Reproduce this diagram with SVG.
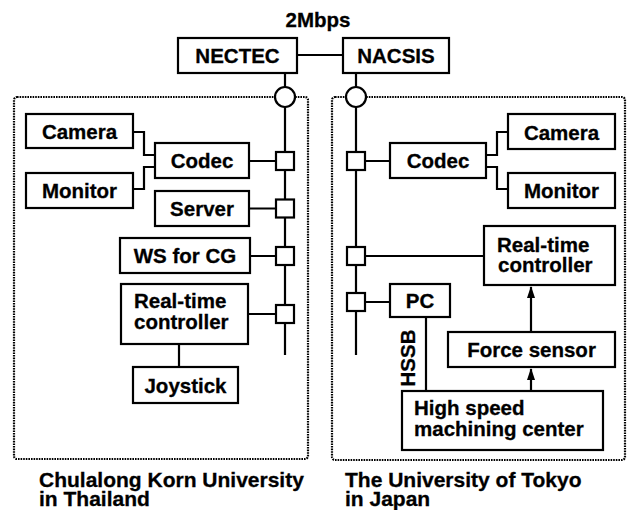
<svg xmlns="http://www.w3.org/2000/svg" width="628" height="510" viewBox="0 0 628 510">
<defs>
<style>
text{font-family:"Liberation Sans",Arial,sans-serif;font-weight:bold;font-size:20.5px;fill:#000;stroke:#000;stroke-width:0.3}
.c{text-anchor:middle}
.box{fill:#fff;stroke:#000;stroke-width:2.2}
.ln{fill:none;stroke:#000;stroke-width:2.2}
.dot{fill:none;stroke:#000;stroke-width:2.2;stroke-dasharray:1.6 1}
.lbl{font-size:21px}
</style>
<marker id="ah" markerUnits="userSpaceOnUse" markerWidth="12" markerHeight="8" refX="11" refY="4" orient="auto" viewBox="0 0 12 8">
<path d="M0,0 L12,4 L0,8 Z" fill="#000"/>
</marker>
</defs>
<rect fill="#fff" x="0" y="0" width="628" height="510"/>

<g id="region-thailand">
<rect class="dot" x="14" y="97" width="294" height="362" rx="3"/>
<text class="lbl" x="39" y="487">Chulalong Korn University</text>
<text class="lbl" x="39" y="506">in Thailand</text>
</g>
<g id="region-japan">
<rect class="dot" x="332" y="97" width="293" height="363" rx="3"/>
<text class="lbl" x="345" y="487">The University of Tokyo</text>
<text class="lbl" x="345" y="506">in Japan</text>
</g>

<g id="connectors">
<line class="ln" x1="297" y1="55" x2="343" y2="55"/>
<line class="ln" x1="285" y1="73" x2="285" y2="355"/>
<line class="ln" x1="356" y1="73" x2="356" y2="355"/>
<polyline class="ln" points="133,132 144,132 144,155 155,155"/>
<polyline class="ln" points="133,189 144,189 144,167 155,167"/>
<line class="ln" x1="249" y1="161" x2="285" y2="161"/>
<line class="ln" x1="249" y1="208.5" x2="285" y2="208.5"/>
<line class="ln" x1="250" y1="256" x2="285" y2="256"/>
<line class="ln" x1="248" y1="314" x2="285" y2="314"/>
<line class="ln" x1="179" y1="344" x2="179" y2="367"/>
<polyline class="ln" points="486,155 497,155 497,132 508,132"/>
<polyline class="ln" points="486,167 497,167 497,189 508,189"/>
<line class="ln" x1="356" y1="161" x2="390" y2="161"/>
<line class="ln" x1="356" y1="256" x2="484" y2="256"/>
<line class="ln" x1="356" y1="302" x2="390" y2="302"/>
<line class="ln" x1="426" y1="317" x2="426" y2="391"/>
<line class="ln" x1="531" y1="332" x2="531" y2="287" marker-end="url(#ah)"/>
<line class="ln" x1="531" y1="391" x2="531" y2="369" marker-end="url(#ah)"/>
<text transform="translate(415,358) rotate(-90)" class="c">HSSB</text>
<circle class="box" cx="285" cy="97" r="10"/>
<circle class="box" cx="356" cy="97" r="10"/>
<rect class="box" x="276" y="152" width="18" height="18"/>
<rect class="box" x="276" y="199.5" width="18" height="18"/>
<rect class="box" x="276" y="247" width="18" height="18"/>
<rect class="box" x="276" y="305" width="18" height="18"/>
<rect class="box" x="347" y="152" width="18" height="18"/>
<rect class="box" x="347" y="247" width="18" height="18"/>
<rect class="box" x="347" y="293" width="18" height="18"/>
</g>

<text class="c" x="318" y="27">2Mbps</text>

<g id="nectec"><rect class="box" x="178" y="38" width="119" height="35"/><text class="c" x="237.5" y="63">NECTEC</text></g>
<g id="nacsis"><rect class="box" x="343" y="38" width="106" height="35"/><text class="c" x="396" y="63">NACSIS</text></g>

<g id="camera-l"><rect class="box" x="26" y="114" width="107" height="34"/><text class="c" x="79.5" y="139">Camera</text></g>
<g id="monitor-l"><rect class="box" x="26" y="173" width="107" height="35"/><text class="c" x="79.5" y="198">Monitor</text></g>
<g id="codec-l"><rect class="box" x="155" y="143" width="94" height="35"/><text class="c" x="202" y="168">Codec</text></g>
<g id="server-l"><rect class="box" x="155" y="191" width="94" height="35"/><text class="c" x="202" y="216">Server</text></g>
<g id="ws-cg"><rect class="box" x="120" y="238" width="130" height="35"/><text class="c" x="185" y="263">WS for CG</text></g>
<g id="rtc-l"><rect class="box" x="121" y="284" width="127" height="60"/><text x="134" y="308">Real-time</text><text x="134" y="329">controller</text></g>
<g id="joystick"><rect class="box" x="133" y="367" width="105" height="36"/><text class="c" x="185.5" y="392.5">Joystick</text></g>

<g id="codec-r"><rect class="box" x="390" y="143" width="96" height="35"/><text class="c" x="438" y="168">Codec</text></g>
<g id="camera-r"><rect class="box" x="508" y="114" width="107" height="35"/><text class="c" x="561.5" y="139.5">Camera</text></g>
<g id="monitor-r"><rect class="box" x="508" y="173" width="107" height="35"/><text class="c" x="561.5" y="198">Monitor</text></g>
<g id="rtc-r"><rect class="box" x="484" y="226" width="131" height="59"/><text x="497" y="251.5">Real-time</text><text x="498" y="272">controller</text></g>
<g id="pc"><rect class="box" x="390" y="284" width="60" height="33"/><text class="c" x="420" y="308">PC</text></g>
<g id="force-sensor"><rect class="box" x="448" y="332" width="167" height="35"/><text class="c" x="531.5" y="357">Force sensor</text></g>
<g id="hsmc"><rect class="box" x="402" y="391" width="201" height="59"/><text x="414" y="415">High speed</text><text x="414" y="436">machining center</text></g>
</svg>
